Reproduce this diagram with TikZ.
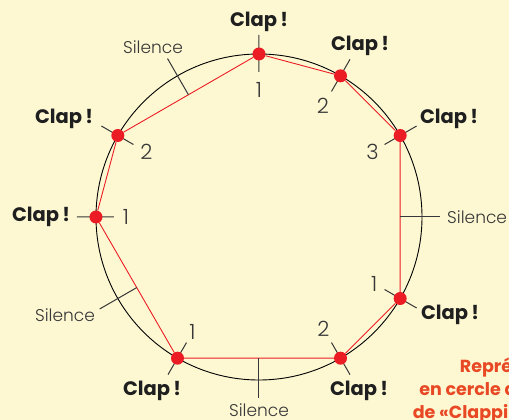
\documentclass[tikz,border=0pt]{standalone}
\usepackage{fontspec}
\setmainfont{Poppins}
\newfontfamily\lightfont{Poppins Light}
\usetikzlibrary{calc}
\definecolor{paper}{RGB}{253,248,210}
\definecolor{clapred}{RGB}{236,28,36}
\definecolor{inkgray}{RGB}{55,55,55}
\definecolor{captionred}{RGB}{232,72,36}
\tikzset{
  clapdot/.style={circle,fill=clapred,inner sep=0pt,minimum size=13pt},
  claplabel/.style={font=\fontsize{19.5}{21}\selectfont\bfseries,text=black!88,inner sep=0pt},
  beatnum/.style={font=\lightfont\fontsize{21}{22}\selectfont,text=inkgray,inner sep=0pt},
  silencelabel/.style={font=\lightfont\fontsize{17}{18}\selectfont,text=inkgray,inner sep=0pt},
  markline/.style={draw=inkgray,line width=1pt},
  chordline/.style={draw=clapred,line width=0.9pt}
}

\begin{document}
\begin{tikzpicture}[x=1pt,y=1pt]
  \fill[paper] (-259,-203) rectangle (250,217);
  \clip (-259,-203) rectangle (250,217);
  \coordinate (c) at (0,0);
  \draw[line width=0.9pt] (c) circle (163);

  % ticks under the claps
  \draw[markline] (90:145) -- (90:182) (60:145) -- (60:182) (30:145) -- (30:182)
    (-30:145) -- (-30:182) (-60:145) -- (-60:182) (-120:145) -- (-120:182)
    (180:145) -- (180:182) (150:145) -- (150:182);

  \node[clapdot] (d0) at (90:163) {};
  \node[clapdot] (d1) at (60:163) {};
  \node[clapdot] (d2) at (30:163) {};
  \node[clapdot] (d4) at (-30:163) {};
  \node[clapdot] (d5) at (-60:163) {};
  \node[clapdot] (d7) at (-120:163) {};
  \node[clapdot] (d9) at (180:163) {};
  \node[clapdot] (d10) at (150:163) {};
  \draw[chordline] (d0)--(d1) (d1)--(d2) (d2)--(d4) (d4)--(d5) (d5)--(d7)
    (d7)--(d9) (d9)--(d10) (d10)--(d0);

  \node[claplabel] (c0) at (0,195) {Clap\,!};
  \node[claplabel] (c1) at (101,171) {Clap\,!};
  \node[claplabel] (c2) at (190,98) {Clap\,!};
  \node[claplabel] (c4) at (191,-98) {Clap\,!};
  \node[claplabel] (c5) at (100,-174) {Clap\,!};
  \node[claplabel] (c7) at (-107,-174) {Clap\,!};
  \node[claplabel] (c9) at (-218,0) {Clap\,!};
  \node[claplabel] (c10) at (-195,98) {Clap\,!};

  \node[beatnum] (n0) at (90:127) {1};
  \node[beatnum] (n1) at (60:128) {2};
  \node[beatnum] (n2) at (30:131) {3};
  \node[beatnum] (n4) at (-30:133) {1};
  \node[beatnum] (n5) at (-60:129) {2};
  \node[beatnum] (n7) at (-120:133) {1};
  \node[beatnum] (n9) at (180:133) {1};
  \node[beatnum] (n10) at (150:130) {2};

  % silences
  \coordinate (t3) at (0:181);
  \coordinate (t6) at (-90:181);
  \coordinate (t8) at (-150:184);
  \coordinate (t11) at (120:183);
  \draw[markline] ($(d2)!.5!(d4)$) -- (t3);
  \draw[markline] ($(d5)!.5!(d7)$) -- (t6);
  \draw[markline] ($(d7)!.5!(d9)$) -- (t8);
  \draw[markline] ($(d10)!.5!(d0)$) -- (t11);
  \node[silencelabel,anchor=west] (s3) at (188,0) {Silence};
  \node[silencelabel] (s6) at (0,-193) {Silence};
  \node[silencelabel] (s8) at (-194,-98) {Silence};
  \node[silencelabel] (s11) at (-106,170) {Silence};

  \node[font=\fontsize{17.5}{23}\selectfont\bfseries,text=captionred,align=right,
    anchor=north east,inner sep=0pt] (cap) at (340,-141)
    {Représentation\\en cercle du rythme\\de «Clapping Music»};
\end{tikzpicture}
\end{document}
